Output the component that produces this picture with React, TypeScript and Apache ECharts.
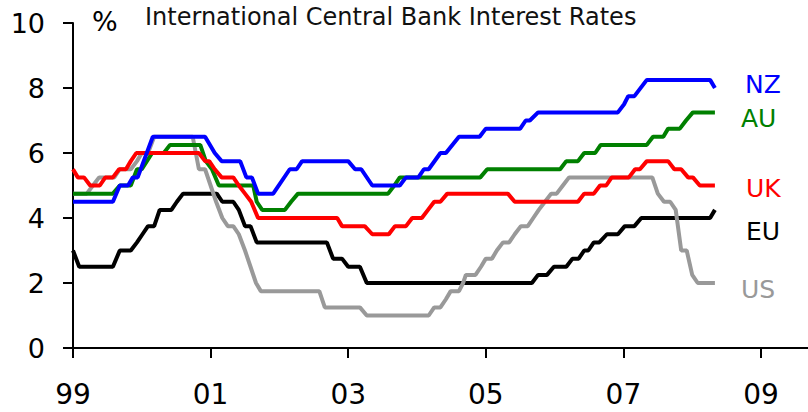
import React, { useEffect, useRef } from "react";
import * as echarts from "echarts";

const BASE_YEAR = 1999;
const X_MAX_YEAR = 2009.683;
const tickLabels = ["99", "01", "03", "05", "07", "09"];
const seriesNames = ["NZ", "AU", "UK", "EU", "US"];
const seriesColors = ["#0000FF", "#008000", "#FF0000", "#000000", "#999999"];
const titleText = "International Central Bank Interest Rates";
const unitText = "%";

const nz: number[][] = [
  [1999.0, 4.5], [1999.58, 4.5], [1999.68, 5.0], [1999.8, 5.0], [1999.87, 5.25], [1999.94, 5.25],
  [2000.16, 6.5], [2000.92, 6.5], [2001.06, 6.0], [2001.16, 5.75], [2001.43, 5.75], [2001.52, 5.25],
  [2001.6, 5.25], [2001.69, 4.75], [2001.91, 4.75], [2002.15, 5.5], [2002.25, 5.5], [2002.33, 5.75],
  [2003.0, 5.75], [2003.1, 5.5], [2003.19, 5.5], [2003.35, 5.0], [2003.75, 5.0], [2003.84, 5.25],
  [2004.02, 5.25], [2004.1, 5.5], [2004.17, 5.5], [2004.34, 6.0], [2004.42, 6.0], [2004.61, 6.5],
  [2004.91, 6.5], [2005.0, 6.75], [2005.5, 6.75], [2005.58, 7.0], [2005.64, 7.0], [2005.76, 7.25],
  [2006.92, 7.25], [2007.01, 7.5], [2007.07, 7.75], [2007.16, 7.75], [2007.34, 8.25], [2008.26, 8.25],
  [2008.33, 8.0],
];

const au: number[][] = [
  [1999.0, 4.75], [1999.58, 4.75], [1999.68, 5.0], [1999.84, 5.0], [1999.93, 5.5], [2000.0, 5.5],
  [2000.15, 6.0], [2000.32, 6.0], [2000.41, 6.25], [2000.85, 6.25], [2000.93, 5.75], [2001.02, 5.5],
  [2001.12, 5.0], [2001.62, 5.0], [2001.67, 4.5], [2001.75, 4.25], [2002.08, 4.25], [2002.17, 4.5],
  [2002.27, 4.75], [2003.58, 4.75], [2003.67, 5.0], [2003.75, 5.25], [2004.92, 5.25], [2005.02, 5.5],
  [2006.08, 5.5], [2006.17, 5.75], [2006.34, 5.75], [2006.43, 6.0], [2006.59, 6.0], [2006.67, 6.25],
  [2007.34, 6.25], [2007.43, 6.5], [2007.58, 6.5], [2007.65, 6.75], [2007.82, 6.75], [2007.91, 7.0],
  [2008.01, 7.25], [2008.33, 7.25],
];

const uk: number[][] = [
  [1999.0, 5.5], [1999.07, 5.25], [1999.16, 5.25], [1999.25, 5.0], [1999.39, 5.0], [1999.47, 5.25],
  [1999.58, 5.25], [1999.67, 5.5], [1999.77, 5.5], [1999.84, 5.75], [1999.92, 6.0], [2000.83, 6.0],
  [2000.92, 5.75], [2000.98, 5.75], [2001.06, 5.5], [2001.16, 5.25], [2001.33, 5.25], [2001.41, 5.0],
  [2001.5, 4.75], [2001.59, 4.5], [2001.69, 4.0], [2002.84, 4.0], [2002.91, 3.75], [2003.24, 3.75],
  [2003.35, 3.5], [2003.59, 3.5], [2003.68, 3.75], [2003.84, 3.75], [2003.93, 4.0], [2004.07, 4.0],
  [2004.16, 4.25], [2004.25, 4.5], [2004.34, 4.5], [2004.44, 4.75], [2005.32, 4.75], [2005.42, 4.5],
  [2006.34, 4.5], [2006.43, 4.75], [2006.57, 4.75], [2006.66, 5.0], [2006.75, 5.0], [2006.83, 5.25],
  [2007.08, 5.25], [2007.17, 5.5], [2007.24, 5.5], [2007.34, 5.75], [2007.65, 5.75], [2007.74, 5.5],
  [2007.84, 5.5], [2007.94, 5.25], [2008.01, 5.25], [2008.11, 5.0], [2008.33, 5.0],
];

const eu: number[][] = [
  [1999.0, 3.0], [1999.09, 2.5], [1999.58, 2.5], [1999.68, 3.0], [1999.84, 3.0], [1999.93, 3.25],
  [2000.01, 3.5], [2000.09, 3.75], [2000.18, 3.75], [2000.26, 4.25], [2000.43, 4.25], [2000.51, 4.5],
  [2000.6, 4.75], [2001.09, 4.75], [2001.17, 4.5], [2001.33, 4.5], [2001.41, 4.25], [2001.5, 3.75],
  [2001.58, 3.75], [2001.67, 3.25], [2002.69, 3.25], [2002.78, 2.75], [2002.91, 2.75], [2003.0, 2.5],
  [2003.17, 2.5], [2003.27, 2.0], [2005.67, 2.0], [2005.76, 2.25], [2005.89, 2.25], [2005.99, 2.5],
  [2006.17, 2.5], [2006.26, 2.75], [2006.35, 2.75], [2006.43, 3.0], [2006.49, 3.0], [2006.57, 3.25],
  [2006.65, 3.25], [2006.76, 3.5], [2006.92, 3.5], [2007.02, 3.75], [2007.16, 3.75], [2007.26, 4.0],
  [2008.26, 4.0], [2008.33, 4.25],
];

const us: number[][] = [
  [1999.0, 4.75], [1999.2, 4.75], [1999.29, 5.0], [1999.38, 5.25], [1999.6, 5.25], [1999.68, 5.5],
  [1999.84, 5.5], [1999.93, 5.75], [2000.0, 6.0], [2000.09, 6.0], [2000.18, 6.5], [2000.74, 6.5],
  [2000.83, 5.5], [2000.92, 5.5], [2001.0, 5.0], [2001.08, 4.5], [2001.17, 4.0], [2001.25, 3.75],
  [2001.33, 3.75], [2001.41, 3.5], [2001.5, 3.0], [2001.58, 2.5], [2001.66, 2.0], [2001.73, 1.75],
  [2002.58, 1.75], [2002.66, 1.25], [2003.17, 1.25], [2003.27, 1.0], [2004.17, 1.0], [2004.25, 1.25],
  [2004.34, 1.25], [2004.42, 1.5], [2004.49, 1.75], [2004.61, 1.75], [2004.67, 2.0], [2004.71, 2.25],
  [2004.85, 2.25], [2004.93, 2.5], [2005.0, 2.75], [2005.09, 2.75], [2005.16, 3.0], [2005.25, 3.25],
  [2005.34, 3.25], [2005.42, 3.5], [2005.51, 3.75], [2005.61, 3.75], [2005.69, 4.0], [2005.77, 4.25],
  [2005.86, 4.5], [2005.95, 4.75], [2006.03, 4.75], [2006.12, 5.0], [2006.21, 5.25], [2007.42, 5.25],
  [2007.5, 4.75], [2007.59, 4.5], [2007.68, 4.5], [2007.76, 4.25], [2007.84, 3.0], [2007.92, 3.0],
  [2008.0, 2.25], [2008.08, 2.0], [2008.33, 2.0],
];

const seriesData = [nz, au, uk, eu, us];
// drawing order, bottom to top
const drawOrder = [3, 4, 1, 2, 0];

const FONT = "DejaVu Sans";

export default function App() {
  const ref = useRef<HTMLDivElement>(null);

  useEffect(() => {
    if (!ref.current) return;
    const chart = echarts.init(ref.current, null, { renderer: "svg" });

    const series = drawOrder.map((i) => ({
      type: "line",
      name: seriesNames[i],
      data: seriesData[i].map(([y, v]) => [y - BASE_YEAR, v]),
      showSymbol: false,
      symbol: "none",
      lineStyle: { color: seriesColors[i], width: 4 },
      itemStyle: { color: seriesColors[i] },
      z: 2,
    }));

    const labelPos = [
      { x: 745, y: 84 },
      { x: 741, y: 118 },
      { x: 746, y: 188 },
      { x: 746, y: 231 },
      { x: 741, y: 289 },
    ];

    const tickValues = tickLabels.map((_, i) => i * 2);

    chart.setOption({
      animation: false,
      backgroundColor: "#ffffff",
      grid: { left: 73, right: 0, top: 23, bottom: 64, containLabel: false },
      xAxis: {
        type: "value",
        min: 0,
        max: X_MAX_YEAR - BASE_YEAR,
        interval: 2,
        axisLine: { show: true, onZero: false, lineStyle: { color: "#000", width: 2 } },
        axisTick: {
          show: true,
          length: 10,
          inside: false,
          customValues: tickValues,
          lineStyle: { color: "#000", width: 2 },
        },
        axisLabel: {
          show: true,
          customValues: tickValues,
          formatter: (v: number) => {
            const idx = Math.round(v / 2);
            return Math.abs(v - idx * 2) < 1e-6 && tickLabels[idx] ? tickLabels[idx] : "";
          },
          color: "#000",
          fontSize: 28,
          fontFamily: FONT,
          margin: 32,
        },
        splitLine: { show: false },
      },
      yAxis: {
        type: "value",
        min: 0,
        max: 10,
        interval: 2,
        axisLine: { show: true, lineStyle: { color: "#000", width: 2 } },
        axisTick: { show: true, length: 10, inside: false, lineStyle: { color: "#000", width: 2 } },
        axisLabel: { color: "#000", fontSize: 27, fontFamily: FONT, margin: 28 },
        splitLine: { show: false },
      },
      series,
      graphic: [
        {
          type: "text",
          x: 92,
          y: 21,
          style: {
            text: unitText,
            fill: "#000",
            fontSize: 27,
            fontFamily: FONT,
            textAlign: "left",
            textVerticalAlign: "middle",
          },
        },
        {
          type: "text",
          x: 145,
          y: 16.5,
          style: {
            text: titleText,
            fill: "#111",
            fontSize: 24,
            fontFamily: FONT,
            textAlign: "left",
            textVerticalAlign: "middle",
          },
        },
        ...seriesNames.map((n, i) => ({
          type: "text",
          x: labelPos[i].x,
          y: labelPos[i].y,
          style: {
            text: n,
            fill: seriesColors[i],
            fontSize: 25,
            fontFamily: FONT,
            textAlign: "left",
            textVerticalAlign: "middle",
          },
        })),
      ],
    });

    return () => chart.dispose();
  }, []);

  return (
    <div
      ref={ref}
      style={{ position: "fixed", left: 0, top: 0, width: 808, height: 412 }}
    />
  );
}
